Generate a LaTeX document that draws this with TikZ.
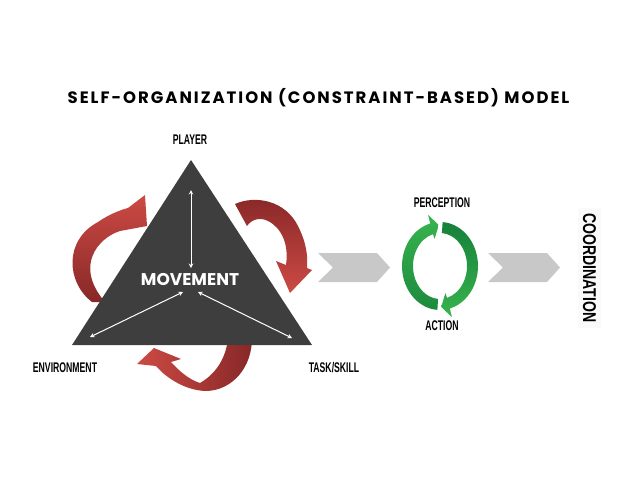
\documentclass[tikz,border=0pt]{standalone}
\usepackage{fontspec}
\usepackage{graphicx}
\usetikzlibrary{arrows,calc,positioning}
\newfontfamily\titlefont{Poppins}[LetterSpace=12]
\newfontfamily\hubfont{Poppins}
\newfontfamily\tagfont{Liberation Sans}
\definecolor{tridark}{RGB}{62,62,62}
\definecolor{reddark}{RGB}{135,40,40}
\definecolor{redlight}{RGB}{205,74,68}
\definecolor{greendark}{RGB}{22,128,58}
\definecolor{greenlight}{RGB}{56,180,78}
\definecolor{chevgray}{RGB}{200,200,200}
\newcommand{\tagtext}[2][0.62]{\tagfont\bfseries\scalebox{#1}[1]{#2}}
% ring arrow of the perception-action loop: start angle, end angle, tip angle
\newcommand{\ringarrow}[4]{
	\shade[#4] ($(loop)+(#1:38 and 44)$) arc[start angle=#1, end angle=#2, x radius=38, y radius=44]
		-- ($(loop)+(#2:46 and 53)$) -- ($(loop)+(#3:35 and 41)$) -- ($(loop)+(#2:21 and 28)$)
		-- ($(loop)+(#2:27 and 33)$) arc[start angle=#2, end angle=#1, x radius=27, y radius=33] -- cycle;
}
\tikzset{
	tag/.style={inner sep=0pt, font=\fontsize{14}{14}\selectfont},
	link/.style={draw=white, line width=1pt, <->, >=stealth},
	chevron/.style={fill=chevgray, draw=none},
	bigarrow/.style={draw=none},
}

\begin{document}
\begin{tikzpicture}[x=1pt, y=-1pt]
	\useasboundingbox (0,0) rectangle (638,493);
	\node[anchor=base, font=\titlefont\bfseries\fontsize{16.5}{16.5}\selectfont] (title) at (318.5,103.5)
		{SELF-ORGANIZATION (CONSTRAINT-BASED) MODEL};
	% red loop round the triangle
	\shade[bigarrow, top color=redlight, bottom color=reddark]
		(92,302) .. controls (66,282) and (64,240) .. (98,222) .. controls (108,215) and (120,210) .. (128,208)
		-- (145,195) -- (147,226) -- (120,231) .. controls (98,238) and (74,266) .. (105,302) -- cycle;
	\shade[bigarrow, top color=reddark, bottom color=redlight]
		(235,204) .. controls (255,195) and (285,200) .. (298,226) .. controls (306,242) and (308,255) .. (307,268)
		-- (312,270) -- (290,293) -- (276,261) -- (286,265) .. controls (289,245) and (282,228) .. (268,221)
		.. controls (260,217) and (252,219) .. (247,226) -- cycle;
	\shade[bigarrow, left color=redlight, right color=reddark]
		(252,338) .. controls (252,368) and (232,390) .. (207,391) .. controls (188,391) and (168,380) .. (156,366)
		-- (137,364) -- (154,348) -- (181,359) -- (171,362) .. controls (180,372) and (190,380) .. (200,383)
		.. controls (214,375) and (226,360) .. (228,338) -- cycle;
	\fill[tridark] (191,160) -- (72,345) -- (312,345) -- cycle;
	\node[font=\hubfont\bfseries\fontsize{17}{17}\selectfont, text=white, inner sep=0pt] (movement) at (190,280) {MOVEMENT};
	\coordinate (apexend) at (191,190);
	\coordinate (hubtop) at (191,268);
	\coordinate (hubleft) at (183,292);
	\coordinate (envend) at (90,337);
	\coordinate (hubright) at (198,292);
	\coordinate (taskend) at (292,338);
	\draw[link] (apexend) -- (hubtop);
	\draw[link] (hubleft) -- (envend);
	\draw[link] (hubright) -- (taskend);
	\node[tag] (player) at (190,140) {\tagtext{PLAYER}};
	\node[tag] (environment) at (65,368) {\tagtext{ENVIRONMENT}};
	\node[tag] (task) at (334,368) {\tagtext{TASK/SKILL}};
	% chevrons
	\foreach \x in {318,488}
		\fill[chevron] (\x,253) -- ++(59,0) -- ++(13,14.5) -- ++(-13,14.5) -- ++(-59,0) -- ++(15,-14.5) -- cycle;
	% perception-action loop
	\coordinate (loop) at (440,266);
	\ringarrow{94}{255}{268}{bigarrow, top color=greenlight, bottom color=greendark!80!greenlight}
	\ringarrow{-86}{75}{88}{bigarrow, top color=greendark, bottom color=greenlight}
	\node[tag] (perception) at (442,203) {\tagtext{PERCEPTION}};
	\node[tag] (action) at (442,326) {\tagtext{ACTION}};
	\node[tag, rotate=-90, fill=black!2, inner xsep=5pt, inner ysep=5pt, font=\fontsize{18.5}{18.5}\selectfont]
		(coordination) at (589.5,268) {\tagtext[0.76]{COORDINATION}};
\end{tikzpicture}
\end{document}
